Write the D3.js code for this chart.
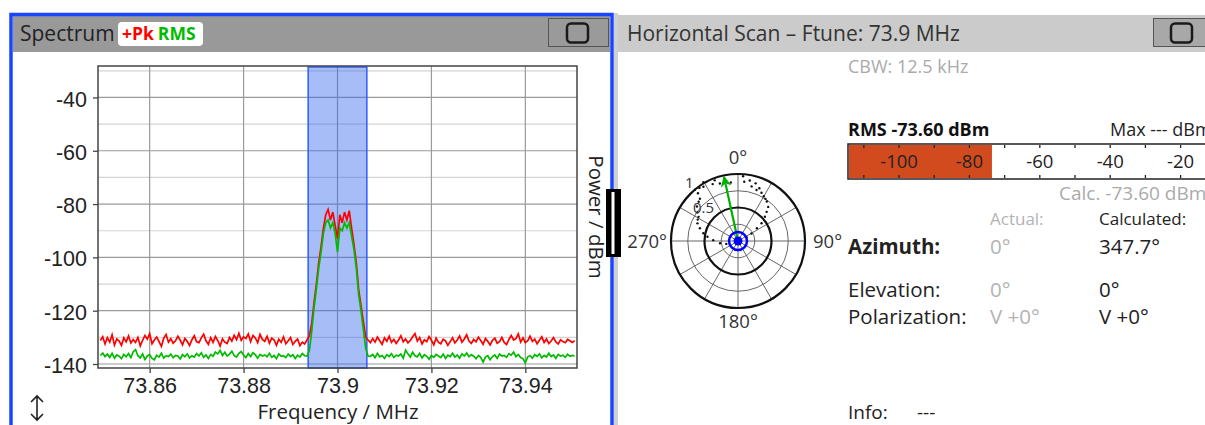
<!DOCTYPE html>
<html lang="en">
<head>
<meta charset="UTF-8">
<title>Spectrum / Horizontal Scan</title>
<script src="https://d3js.org/d3.v7.min.js"></script>
<style>
    body { margin: 0; background: #fff; }
    svg { display: block; font-family: "Open Sans", "Noto Sans", sans-serif; }
    .tick text { font-size: 21.5px; fill: #222; }
</style>
</head>
<body>
<div id="chart"></div>
<script>
// ---- spectrum data (dBm), one value every 0.5 kHz from 73.8495 MHz ----
var freqStart = 73.8495,
    freqStep = 0.0005;

var pkNoiseLeft = [
    -131.2,-129.8,-132.5,-130.1,-131.8,-129.0,-132.9,-130.6,-131.4,-133.0,
    -130.2,-131.7,-129.5,-132.1,-130.8,-131.9,-130.0,-133.2,-131.1,-129.3,
    -130.7,-128.6,-132.4,-131.0,-129.9,-131.6,-133.4,-130.3,-128.9,-131.8,
    -130.5,-132.2,-131.3,-129.6,-131.0,-132.8,-130.4,-131.5,-133.1,-130.9,
    -129.4,-131.7,-132.0,-130.2,-128.8,-131.3,-132.6,-130.1,-131.9,-129.7,
    -131.2,-133.3,-130.6,-131.8,-132.3,-130.0,-131.4,-129.2,-130.9,-128.5,
    -131.1,-129.8,-130.4,-128.7,-131.6,-129.3,-130.2,-132.0,-128.9,-130.8,
    -131.5,-129.6,-132.2,-130.3,-131.0,-133.0,-130.7,-131.9,-129.8,-132.4,
    -131.3,-130.1,-132.7,-131.5,-130.6,-133.1,-131.8,-132.5
];
var pkSignal = [
    -131,-129.5,-125,-117,-110,-102,-96,-89,-84,-82,-86,-83,-88,-93,
    -84,-87,-83,-86,-82.5,-89,-95,-102,-112,-118,-124,-130,-131
];
var pkNoiseRight = [
    -132.0,-130.5,-131.8,-129.9,-131.3,-132.6,-130.2,-131.5,-129.6,-131.9,
    -130.8,-132.3,-131.0,-129.4,-131.7,-130.6,-132.1,-131.2,-129.8,-128.6,
    -131.4,-130.1,-132.5,-130.9,-131.6,-129.7,-131.1,-132.8,-130.3,-131.9,
    -132.4,-130.7,-131.3,-133.0,-131.6,-130.2,-132.1,-131.0,-129.5,-131.8,
    -130.6,-129.0,-131.4,-132.3,-130.8,-131.7,-129.9,-131.2,-132.6,-130.4,
    -131.5,-132.9,-131.1,-130.3,-132.2,-131.6,-130.0,-131.9,-132.7,-130.8,
    -129.3,-131.0,-130.5,-128.7,-131.8,-130.2,-132.0,-131.3,-129.6,-131.5,
    -130.7,-132.4,-131.1,-129.8,-131.9,-130.6,-132.3,-131.4,-130.1,-131.7,
    -132.5,-130.9,-131.6,-132.0,-130.8,-131.3,-131.9,-131.2
];

var rmsNoiseLeft = [
    -136.8,-135.9,-137.2,-136.3,-137.5,-136.0,-137.8,-136.6,-137.1,-138.0,
    -136.4,-137.3,-136.1,-137.6,-135.4,-134.6,-136.9,-137.7,-136.2,-138.3,
    -137.0,-136.5,-137.9,-138.4,-136.7,-137.4,-136.0,-137.8,-136.9,-137.2,
    -136.3,-137.6,-136.8,-137.0,-138.1,-136.5,-137.3,-136.2,-137.7,-136.9,
    -137.4,-136.1,-137.0,-135.8,-137.5,-136.6,-137.9,-136.4,-137.1,-135.5,
    -136.2,-134.9,-136.8,-135.6,-137.0,-136.3,-135.2,-136.9,-137.4,-136.0,
    -135.3,-136.7,-137.6,-136.1,-137.2,-135.8,-136.5,-137.8,-136.4,-137.0,
    -136.6,-137.3,-136.0,-137.5,-136.8,-138.0,-136.2,-137.1,-136.9,-137.6,
    -136.3,-137.2,-136.5,-137.9,-136.7,-137.4,-136.1,-136.9
];
var rmsSignal = [
    -137,-135,-128,-119,-112,-104,-98,-91,-87,-86,-89,-87,-91,-98,
    -89,-90,-87,-89,-87,-92,-97,-104,-114,-120,-127,-134,-137
];
var rmsNoiseRight = [
    -137.1,-136.4,-137.6,-136.0,-137.3,-136.8,-137.9,-136.5,-137.2,-136.1,
    -137.5,-136.7,-137.0,-136.3,-137.8,-134.8,-136.2,-137.4,-135.6,-136.9,
    -137.3,-136.0,-137.7,-136.5,-137.1,-138.2,-136.8,-137.5,-136.4,-137.0,
    -137.6,-136.3,-137.9,-136.7,-137.2,-136.0,-137.4,-136.6,-137.8,-136.2,
    -137.0,-135.9,-137.3,-136.5,-137.1,-138.0,-136.8,-137.5,-139.3,-137.4,
    -136.9,-138.4,-137.2,-136.6,-137.9,-136.3,-137.0,-136.8,-137.5,-136.1,
    -136.7,-135.5,-137.2,-136.4,-137.6,-138.0,-139.6,-137.3,-136.9,-137.8,
    -136.5,-137.1,-136.2,-137.7,-136.8,-137.4,-136.0,-137.2,-136.6,-137.9,
    -136.4,-137.0,-136.7,-137.5,-136.3,-137.1,-136.8,-137.0
];

var xTicks = [73.86, 73.88, 73.9, 73.92, 73.94];
var yTicks = [-140, -120, -100, -80, -60, -40];
var yMinorTicks = [-130, -110, -90, -70, -50, -30];
var channelBand = [73.89375, 73.90625];

// ---- horizontal scan data ----
var patternAz = [320, 320, 318, 310, 301.5, 293.5, 288.5, 282.5, 278, 272, 263, 256,
    327.5, 331.5, 329.5, 342.5, 353, 4.5, 6, 11, 14, 17, 20, 22, 36, 41.5, 44.5, 48,
    53, 56, 61, 67, 336, 339, 305, 315, 298, 324, 26, 30, 33];
var patternLevel = [1.0, 0.93, 0.85, 0.80, 0.69, 0.66, 0.60, 0.53, 0.46, 0.37, 0.27, 0.18,
    0.96, 1.0, 1.02, 0.90, 0.88, 0.97, 0.89, 0.92, 0.84, 0.90, 0.81, 0.85, 0.73, 0.68, 0.61, 0.54,
    0.44, 0.34, 0.23, 0.14, 0.93, 0.97, 0.74, 0.83, 0.68, 0.98, 0.80, 0.77, 0.75];
var azimuthCalc = 347.7,
    azimuthLevel = 0.98;
var polarAngleLabels = ["0°", "90°", "180°", "270°"];

var rmsDbm = -73.60;
var meterTicks = [-100, -80, -60, -40, -20];
var meterMinorTicks = [-110, -100, -90, -80, -70, -60, -50, -40, -30, -20, -10];

var svg = d3.select("#chart").append("svg")
    .attr("width", 1205)
    .attr("height", 425);

// ================= left panel (spectrum) =================
svg.append("rect").attr("x", 614).attr("y", 13).attr("width", 4).attr("height", 412).attr("fill", "#d0d0d0");
svg.append("rect").attr("x", 13).attr("y", 16).attr("width", 597).attr("height", 36).attr("fill", "#999");
svg.append("rect").attr("x", 11).attr("y", 14.5).attr("width", 601).attr("height", 420)
    .attr("fill", "none").attr("stroke", "#1846ff").attr("stroke-width", 3.5);

svg.append("text").attr("x", 20).attr("y", 41).attr("font-size", 21).attr("fill", "#222").text("Spectrum");
svg.append("rect").attr("x", 118).attr("y", 22).attr("width", 85).attr("height", 24).attr("rx", 4).attr("fill", "#fff");
var badge = svg.append("text").attr("x", 122).attr("y", 40).attr("font-size", 17.5).attr("font-weight", "bold");
badge.append("tspan").attr("fill", "#ff0000").text("+Pk");
badge.append("tspan").attr("fill", "#00bb00").attr("dx", 4).text("RMS");

svg.append("rect").attr("x", 548.5).attr("y", 18.5).attr("width", 60).attr("height", 28)
    .attr("fill", "#9a9a9a").attr("stroke", "#555");
svg.append("rect").attr("x", 567).attr("y", 23.5).attr("width", 21).attr("height", 19).attr("rx", 4)
    .attr("fill", "none").attr("stroke", "#1a1a1a").attr("stroke-width", 2.5);

var x = d3.scaleLinear().domain([73.849, 73.951]).range([98, 577]);
var y = d3.scaleLinear().domain([-141.5, -28.2]).range([368, 66]);

var plot = svg.append("g");

plot.selectAll(".minor")
    .data(yMinorTicks)
    .enter().append("line")
    .attr("x1", 98).attr("x2", 577)
    .attr("y1", function (d) { return y(d); })
    .attr("y2", function (d) { return y(d); })
    .attr("stroke", "#d4d4d4").attr("stroke-width", 1.2);

plot.selectAll(".hmajor")
    .data(yTicks)
    .enter().append("line")
    .attr("x1", 98).attr("x2", 577)
    .attr("y1", function (d) { return y(d); })
    .attr("y2", function (d) { return y(d); })
    .attr("stroke", "#9a9a9a").attr("stroke-width", 1.2);

plot.selectAll(".vmajor")
    .data(xTicks)
    .enter().append("line")
    .attr("y1", 66).attr("y2", 368)
    .attr("x1", function (d) { return x(d); })
    .attr("x2", function (d) { return x(d); })
    .attr("stroke", "#9a9a9a").attr("stroke-width", 1.2);

// channel band
plot.append("rect")
    .attr("x", x(channelBand[0]))
    .attr("y", 67)
    .attr("width", x(channelBand[1]) - x(channelBand[0]))
    .attr("height", 301)
    .attr("fill", "#3366ee").attr("fill-opacity", 0.43)
    .attr("stroke", "#2f5cff").attr("stroke-width", 1.5);

svg.append("clipPath").attr("id", "plotclip")
    .append("rect").attr("x", 98).attr("y", 66).attr("width", 479).attr("height", 302);

var line = d3.line()
    .x(function (d, i) { return x(freqStart + i * freqStep); })
    .y(function (d) { return y(d); });

var traces = [
    { name: "+Pk", values: pkNoiseLeft.concat(pkSignal, pkNoiseRight), color: "#ff0000" },
    { name: "RMS", values: rmsNoiseLeft.concat(rmsSignal, rmsNoiseRight), color: "#00bb00" }
];

plot.append("g").attr("clip-path", "url(#plotclip)")
    .selectAll("path")
    .data(traces)
    .enter().append("path")
    .attr("d", function (d) { return line(d.values); })
    .attr("fill", "none")
    .attr("stroke", function (d) { return d.color; })
    .attr("stroke-width", 1.7);

plot.append("rect").attr("x", 98).attr("y", 66).attr("width", 479).attr("height", 302)
    .attr("fill", "none").attr("stroke", "#444").attr("stroke-width", 1.5);

var yAxis = plot.append("g")
    .attr("transform", "translate(98,0)")
    .call(d3.axisLeft(y).tickValues(yTicks).tickSize(5).tickPadding(6).tickFormat(function (d) { return d; }));
var xAxis = plot.append("g")
    .attr("transform", "translate(0,368)")
    .call(d3.axisBottom(x).tickValues(xTicks).tickSize(5).tickPadding(5).tickFormat(function (d) { return d; }));
[yAxis, xAxis].forEach(function (a) {
    a.select(".domain").remove();
    a.selectAll(".tick line").attr("stroke", "#444").attr("stroke-width", 1.3);
    a.selectAll("text").attr("font-family", null).attr("font-size", null);
});
yAxis.selectAll("text").attr("dy", "0.4em");

svg.append("text").attr("x", 338).attr("y", 419).attr("text-anchor", "middle")
    .attr("font-size", 20.5).attr("fill", "#222").text("Frequency / MHz");
svg.append("text").attr("transform", "translate(589,217) rotate(90)").attr("text-anchor", "middle")
    .attr("font-size", 20.5).attr("fill", "#222").text("Power / dBm");

// splitter handle
svg.append("rect").attr("x", 606).attr("y", 189).attr("width", 15).attr("height", 68).attr("fill", "#000");
svg.append("rect").attr("x", 611.5).attr("y", 192).attr("width", 3).attr("height", 62).attr("fill", "#fff");

// resize icon
svg.append("path")
    .attr("d", "M37,396 L37,420 M31,402 L37,396 L43,402 M31,414 L37,420 L43,414")
    .attr("fill", "none").attr("stroke", "#222").attr("stroke-width", 1.6);

// ================= right panel (horizontal scan) =================
svg.append("rect").attr("x", 618).attr("y", 15).attr("width", 587).attr("height", 37).attr("fill", "#cbcbcb");
svg.append("text").attr("x", 627).attr("y", 41).attr("font-size", 21).attr("fill", "#333")
    .text("Horizontal Scan \u2013 Ftune: 73.9 MHz");
svg.append("rect").attr("x", 1153.5).attr("y", 18.5).attr("width", 60).attr("height", 28)
    .attr("fill", "#a8a8a8").attr("stroke", "#555");
svg.append("rect").attr("x", 1171).attr("y", 23.5).attr("width", 21).attr("height", 19).attr("rx", 4)
    .attr("fill", "none").attr("stroke", "#1a1a1a").attr("stroke-width", 2.5);

svg.append("text").attr("x", 848).attr("y", 73).attr("font-size", 18).attr("fill", "#aaa").text("CBW: 12.5 kHz");

// polar plot
var cx = 738, cy = 241;
var r = d3.scaleLinear().domain([0, 1]).range([0, 67]);
var polar = svg.append("g").attr("transform", "translate(" + cx + "," + cy + ")");

function px(az, lv) { return r(lv) * Math.sin(az * Math.PI / 180); }
function py(az, lv) { return -r(lv) * Math.cos(az * Math.PI / 180); }

polar.selectAll(".spoke")
    .data(d3.range(0, 360, 30))
    .enter().append("line")
    .attr("x1", 0).attr("y1", 0)
    .attr("x2", function (d) { return px(d, 1); })
    .attr("y2", function (d) { return py(d, 1); })
    .attr("stroke", "#666").attr("stroke-width", 1);

polar.selectAll(".ring")
    .data([0.25, 0.5, 0.75, 1])
    .enter().append("circle")
    .attr("r", function (d) { return r(d); })
    .attr("fill", "none")
    .attr("stroke", function (d) { return d === 0.5 || d === 1 ? "#111" : "#666"; })
    .attr("stroke-width", function (d) { return d === 0.5 || d === 1 ? 2.2 : 1; });

polar.selectAll(".dot")
    .data(patternAz)
    .enter().append("circle")
    .attr("cx", function (d, i) { return px(d, patternLevel[i]); })
    .attr("cy", function (d, i) { return py(d, patternLevel[i]); })
    .attr("r", 1.2)
    .attr("fill", "#111");

polar.append("text").attr("x", -53).attr("y", -53).attr("font-size", 15).attr("fill", "#333").text("1");
polar.append("text").attr("x", -45).attr("y", -28).attr("font-size", 15).attr("fill", "#334").text("0.5");

var angleLabelPos = [
    { x: 0, y: -77, anchor: "middle" },
    { x: 75, y: 7, anchor: "start" },
    { x: 0, y: 87, anchor: "middle" },
    { x: -71, y: 7, anchor: "end" }
];
polar.selectAll(".alabel")
    .data(polarAngleLabels)
    .enter().append("text")
    .attr("x", function (d, i) { return angleLabelPos[i].x; })
    .attr("y", function (d, i) { return angleLabelPos[i].y; })
    .attr("text-anchor", function (d, i) { return angleLabelPos[i].anchor; })
    .attr("font-size", 18.5).attr("fill", "#333")
    .text(function (d) { return d; });

svg.append("defs").append("marker")
    .attr("id", "arrow").attr("viewBox", "0 0 10 10")
    .attr("refX", 9).attr("refY", 5)
    .attr("markerWidth", 5).attr("markerHeight", 5)
    .attr("markerUnits", "strokeWidth")
    .attr("orient", "auto")
    .append("path").attr("d", "M0,0 L10,5 L0,10 L3,5 Z").attr("fill", "#00b000");

polar.append("line")
    .attr("x1", 0).attr("y1", 0)
    .attr("x2", px(azimuthCalc, azimuthLevel))
    .attr("y2", py(azimuthCalc, azimuthLevel))
    .attr("stroke", "#00b000").attr("stroke-width", 2.2)
    .attr("marker-end", "url(#arrow)");

polar.append("circle").attr("r", 9).attr("fill", "none").attr("stroke", "#0000ff").attr("stroke-width", 2.5);
polar.append("circle").attr("r", 4.5).attr("fill", "#0000ff");

// RMS meter
svg.append("text").attr("x", 848).attr("y", 136).attr("font-size", 18).attr("font-weight", "bold")
    .attr("fill", "#111").text("RMS -73.60 dBm");
svg.append("text").attr("x", 1110).attr("y", 136).attr("font-size", 18).attr("fill", "#222").text("Max --- dBm");

var mx = d3.scaleLinear().domain([-114.5, 0]).range([848, 1251]);
svg.append("rect").attr("x", 848).attr("y", 144).attr("width", 420).attr("height", 35)
    .attr("fill", "#fff").attr("stroke", "#222").attr("stroke-width", 1.5);
svg.append("rect").attr("x", 849).attr("y", 145).attr("width", mx(rmsDbm) - 849).attr("height", 33)
    .attr("fill", "#d24b1f");
svg.selectAll(".mtickTop")
    .data(meterMinorTicks)
    .enter().append("path")
    .attr("d", function (d) { return "M" + mx(d) + ",145 v3 M" + mx(d) + ",178 v-3"; })
    .attr("stroke", "#222").attr("stroke-width", 1.3);
svg.selectAll(".mlabel")
    .data(meterTicks)
    .enter().append("text")
    .attr("x", function (d) { return mx(d); })
    .attr("y", 168)
    .attr("text-anchor", "middle")
    .attr("font-size", 18.5).attr("fill", "#222")
    .text(function (d) { return d; });
svg.append("text").attr("x", 1059).attr("y", 200).attr("font-size", 19).attr("fill", "#aaa").text("Calc. -73.60 dBm");

// angle table
var gray = "#b3b3b3", dark = "#222";
svg.append("text").attr("x", 990).attr("y", 225).attr("font-size", 17).attr("fill", gray).text("Actual:");
svg.append("text").attr("x", 1099).attr("y", 225).attr("font-size", 17).attr("fill", dark).text("Calculated:");

var rows = [
    { label: "Azimuth:", actual: "0°", calc: azimuthCalc + "°", y: 254, bold: true },
    { label: "Elevation:", actual: "0°", calc: "0°", y: 297, bold: false },
    { label: "Polarization:", actual: "V +0°", calc: "V +0°", y: 324, bold: false }
];
rows.forEach(function (row) {
    svg.append("text").attr("x", 848).attr("y", row.y).attr("font-size", 20.5)
        .attr("font-weight", row.bold ? "bold" : null).attr("fill", dark).text(row.label);
    svg.append("text").attr("x", 990).attr("y", row.y).attr("font-size", 20.5).attr("fill", gray).text(row.actual);
    svg.append("text").attr("x", 1099).attr("y", row.y).attr("font-size", 20.5).attr("fill", dark).text(row.calc);
});

svg.append("text").attr("x", 848).attr("y", 419).attr("font-size", 19).attr("fill", dark).text("Info:");
svg.append("text").attr("x", 917).attr("y", 419).attr("font-size", 19).attr("fill", dark).text("---");
</script>
</body>
</html>
